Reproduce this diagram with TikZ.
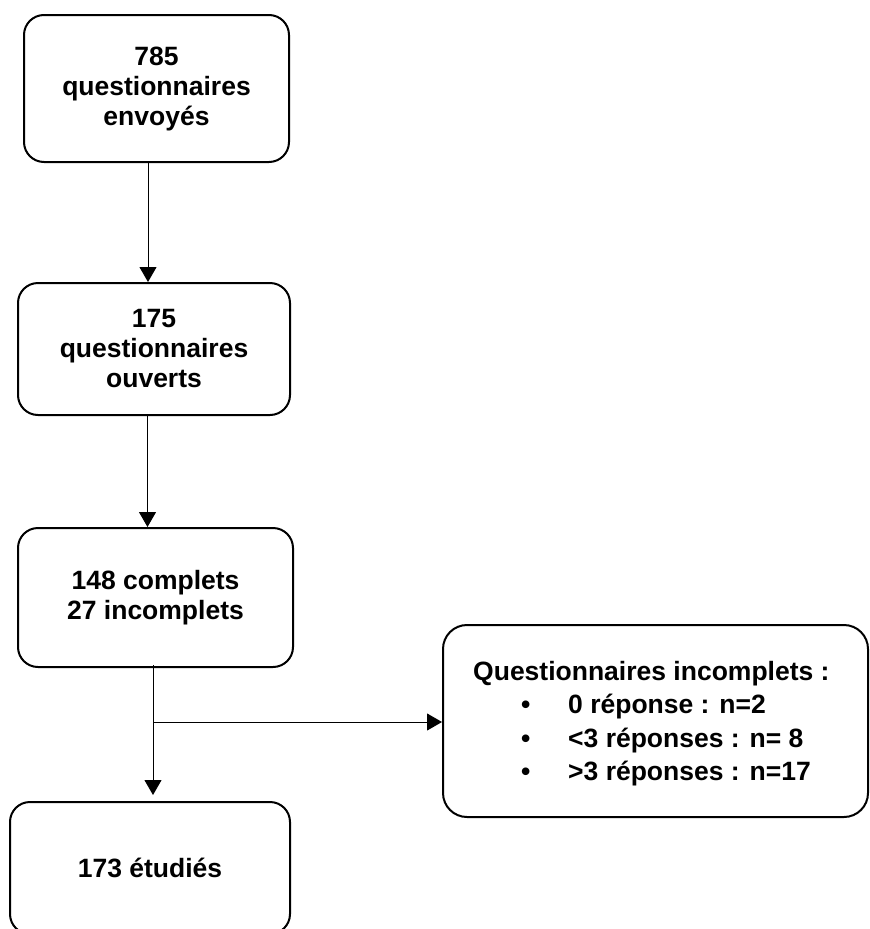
\documentclass[tikz,border=0pt]{standalone}
\usepackage{fontspec}
\setmainfont{Liberation Sans}
\usetikzlibrary{arrows.meta}
\begin{document}
\begin{tikzpicture}[x=1pt,y=-1pt,
  box/.style={draw, line width=2pt, rounded corners=20pt, inner sep=0pt,
    align=center, font=\fontsize{26.5}{30}\selectfont\bfseries},
  txt/.style={inner sep=0pt, anchor=base west, font=\fontsize{26.5}{30}\selectfont\bfseries},
  arr/.style={line width=1pt, -{Triangle[width=17pt,length=15pt]}}]
\useasboundingbox (0,0) rectangle (870,929);
\node[box, minimum width=265pt, minimum height=147pt] (b1) at (156.5,88.5)
  {785\\questionnaires\\envoyés};
\node[box, minimum width=272pt, minimum height=132pt] (b2) at (154,349)
  {175\\questionnaires\\ouverts};
\node[box, minimum width=275pt, minimum height=139pt] (b3) at (155.5,597.5)
  {148 complets\\27 incomplets};
\node[box, minimum width=280pt, minimum height=132pt] (b5) at (150,868)
  {173 étudiés};
\node[box, rounded corners=24pt, minimum width=425pt, minimum height=192pt] (b4) at (655.5,721) {};
\node[txt] (h) at (473,680) {Questionnaires incomplets :};
\node[txt] (p1) at (521,713) {•};
\node[txt] (p2) at (521,747) {•};
\node[txt] (p3) at (521,780) {•};
\node[txt] (i1) at (568,713) {0 réponse : n=2};
\node[txt] (i2) at (568,747) {<3 réponses : n= 8};
\node[txt] (i3) at (568,780) {>3 réponses : n=17};
\coordinate (x1) at (148,0);
\coordinate (x2) at (147.5,0);
\coordinate (x3) at (153,0);
\coordinate (j) at (153,722);
\draw[arr] (b1.south -| x1) -- (b2.north -| x1);
\draw[arr] (b2.south -| x2) -- (b3.north -| x2);
\draw[line width=1pt] ([yshift=3pt]b3.south -| x3) -- (j);
\draw[arr, shorten >=6pt] (j) -- (b5.north -| x3);
\draw[arr] (j) -- (b4.west |- j);
\end{tikzpicture}
\end{document}
